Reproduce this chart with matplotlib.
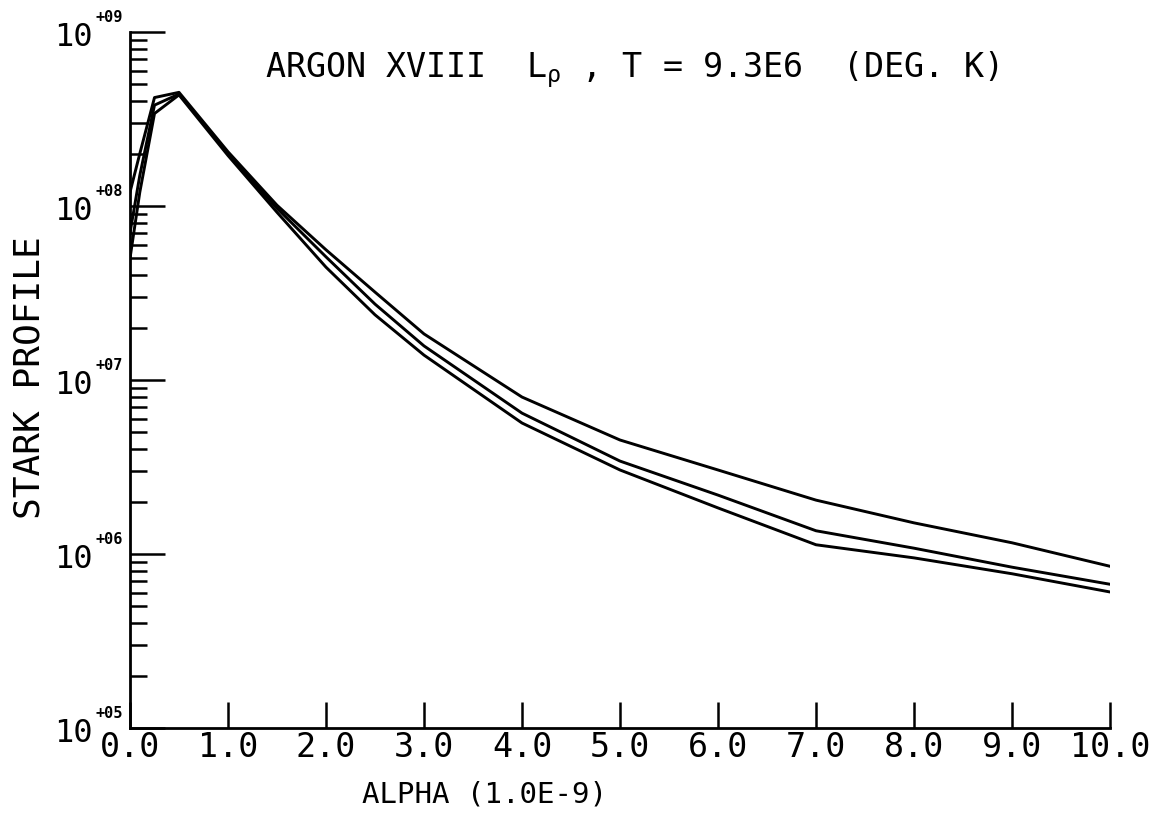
import matplotlib
matplotlib.use("Agg")
import matplotlib.pyplot as plt
import matplotlib.transforms as mtransforms
from matplotlib.ticker import FixedLocator, LogLocator, NullFormatter, NullFormatter as _NF

plt.rcParams["font.family"] = ["DejaVu Sans Mono", "DejaVu Sans"]
plt.rcParams["mathtext.default"] = "regular"

# Wavelength offset grid (units of 1.0E-9)
alpha = [0.0, 0.1, 0.25, 0.5, 1.0, 1.5, 2.0, 2.5, 3.0, 4.0, 5.0, 6.0, 7.0, 8.0, 9.0, 10.0]

# Stark profiles for three electron densities
profile_a = [1.2e8, 2.0e8, 4.2e8, 4.5e8, 2.05e8, 1.01e8, 5.6e7, 3.2e7, 1.84e7,
             7.98e6, 4.52e6, 3.04e6, 2.04e6, 1.51e6, 1.16e6, 8.5e5]
profile_b = [7.0e7, 1.5e8, 3.8e8, 4.4e8, 2.0e8, 9.7e7, 5.1e7, 2.73e7, 1.57e7,
             6.45e6, 3.42e6, 2.18e6, 1.36e6, 1.08e6, 8.4e5, 6.7e5]
profile_c = [5.0e7, 1.2e8, 3.4e8, 4.35e8, 1.95e8, 9.2e7, 4.45e7, 2.37e7, 1.39e7,
             5.66e6, 3.04e6, 1.84e6, 1.13e6, 9.5e5, 7.7e5, 6.05e5]

x_ticks = [0, 1, 2, 3, 4, 5, 6, 7, 8, 9, 10]
x_tick_labels = ["0.0", "1.0", "2.0", "3.0", "4.0", "5.0", "6.0", "7.0", "8.0", "9.0", "10.0"]
y_decades = [1e5, 1e6, 1e7, 1e8, 1e9]
y_exponents = ["+05", "+06", "+07", "+08", "+09"]

W, H = 1167, 832
fig = plt.figure(figsize=(W / 100, H / 100), dpi=100)
ax = fig.add_axes([130 / W, 1 - 728 / H, (1110 - 130) / W, (728 - 32) / H])

for prof in (profile_a, profile_b, profile_c):
    ax.plot(alpha, prof, color="black", lw=2.1, solid_joinstyle="round")

ax.set_yscale("log")
ax.set_xlim(0, 10)
ax.set_ylim(1e5, 1e9)

ax.spines["top"].set_visible(False)
ax.spines["right"].set_visible(False)
ax.spines["left"].set_linewidth(2.0)
ax.spines["bottom"].set_linewidth(2.0)

ax.xaxis.set_major_locator(FixedLocator(x_ticks))
ax.set_xticklabels(x_tick_labels, fontsize=24)
ax.yaxis.set_major_locator(FixedLocator(y_decades))
ax.yaxis.set_major_formatter(NullFormatter())
ax.yaxis.set_minor_locator(LogLocator(base=10, subs=range(2, 10)))
ax.yaxis.set_minor_formatter(NullFormatter())

ax.tick_params(axis="x", which="major", direction="in", length=19, width=1.8, pad=2)
ax.tick_params(axis="y", which="major", direction="in", length=25, width=1.8)
ax.tick_params(axis="y", which="minor", direction="in", length=12, width=1.8)

# Decade labels written as "10" with a small raised exponent
blend = mtransforms.blended_transform_factory(fig.transFigure, ax.transData)
down = mtransforms.ScaledTranslation(0, -6 / 100, fig.dpi_scale_trans)
up = mtransforms.ScaledTranslation(0, 7 / 100, fig.dpi_scale_trans)
for val, expo in zip(y_decades, y_exponents):
    ax.text(93 / W, val, "10", transform=blend + down, fontsize=23,
            ha="right", va="center", clip_on=False)
    ax.text(95 / W, val, expo, transform=blend + up, fontsize=11,
            ha="left", va="bottom", fontweight="bold", clip_on=False)

fig.text(265 / W, 1 - 70 / H, "ARGON XVIII  $L_ρ$ , T = 9.3E6  (DEG. K)",
         fontsize=24, ha="left", va="center")
fig.text(30 / W, 1 - 378 / H, "STARK PROFILE", fontsize=26, rotation=90,
         ha="center", va="center")
fig.text(485 / W, 1 - 795 / H, "ALPHA (1.0E-9)", fontsize=21,
         ha="center", va="center")

fig.savefig("out.png", dpi=100)
